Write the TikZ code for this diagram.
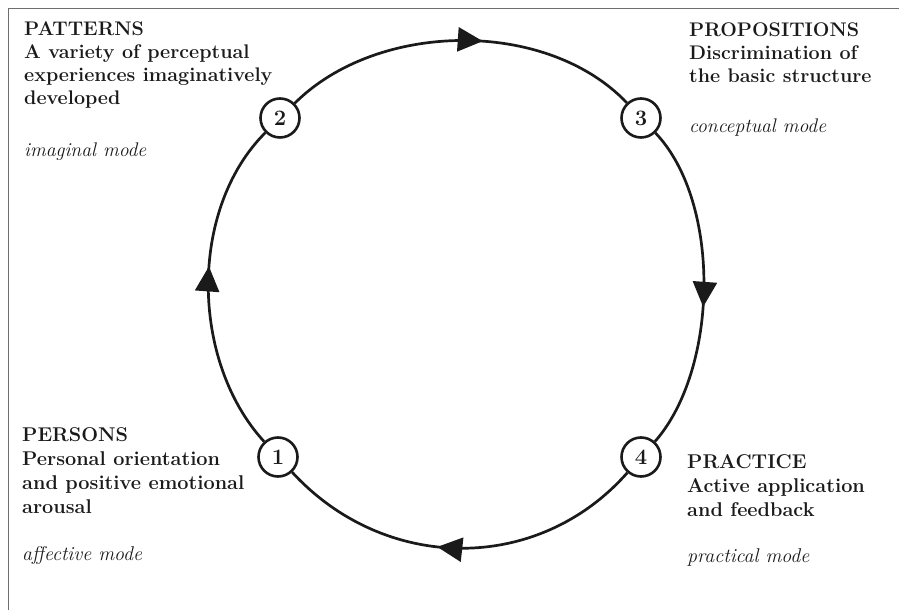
\documentclass[tikz,border=0pt]{standalone}
\usetikzlibrary{arrows.meta,decorations.markings}
\definecolor{ink}{HTML}{1A1A1A}
\definecolor{framec}{HTML}{6E6E6E}
\begin{document}
\begin{tikzpicture}[x=1pt,y=1pt,
  stage/.style={circle,draw=ink,line width=2.6pt,minimum size=39pt,inner sep=0pt,fill=white,text=ink,
    font=\fontsize{22}{24}\selectfont\bfseries},
  cyclearc/.style={draw=ink,line width=2.7pt,postaction={decorate},
    decoration={markings,mark=at position 0.56 with {\arrow[ink]{Triangle[length=25pt,width=24pt]}}}},
  blocktext/.style={anchor=base west,inner sep=0pt,text=ink},
  topfont/.style={font=\fontsize{19.7}{23}\selectfont},
  botfont/.style={font=\fontsize{19.9}{24}\selectfont},
  framerule/.style={draw=framec,line width=1pt}
]
\useasboundingbox (0,0) rectangle (899,610);
% frame
\coordinate (fl) at (8,0);
\coordinate (fc) at (8,601);
\coordinate (fr) at (899,601);
\draw[framerule] (fl) -- (fc) -- (fr);

% stage nodes
\node[stage] (n1) at (278,153) {1};
\node[stage] (n2) at (280,492) {2};
\node[stage] (n3) at (641,492) {3};
\node[stage] (n4) at (641,153) {4};

% cycle arcs (clockwise)
\draw[cyclearc] (n1.132.5) to[out=132.5,in=225,looseness=0.90] (n2.225);
\draw[cyclearc] (n2.45) to[out=45,in=133.6,looseness=0.90] (n3.133.6);
\draw[cyclearc] (n3.-46.4) to[out=-46.4,in=48.6,looseness=0.80] (n4.48.6);
\draw[cyclearc] (n4.-131.4) to[out=-131.4,in=-47.5,looseness=1.04] (n1.-47.5);

% text blocks
\node[blocktext,topfont] (tpatterns) at (24,574) {\begin{tabular}[t]{@{}l@{}}
\textbf{PATTERNS}\\
\textbf{A variety of perceptual}\\
\textbf{experiences imaginatively}\\
\textbf{developed}\\[29pt]
\textit{imaginal mode}\end{tabular}};

\node[blocktext,topfont] (tprop) at (689,573) {\begin{tabular}[t]{@{}l@{}}
\textbf{PROPOSITIONS}\\
\textbf{Discrimination of}\\
\textbf{the basic structure}\\[27pt]
\textit{conceptual mode}\end{tabular}};

\node[blocktext,botfont] (tpersons) at (22,168) {\begin{tabular}[t]{@{}l@{}}
\textbf{PERSONS}\\
\textbf{Personal orientation}\\
\textbf{and positive emotional}\\
\textbf{arousal}\\[23pt]
\textit{affective mode}\end{tabular}};

\node[blocktext,botfont] (tpractice) at (687,141) {\begin{tabular}[t]{@{}l@{}}
\textbf{PRACTICE}\\
\textbf{Active application}\\
\textbf{and feedback}\\[22pt]
\textit{practical mode}\end{tabular}};
\end{tikzpicture}
\end{document}
